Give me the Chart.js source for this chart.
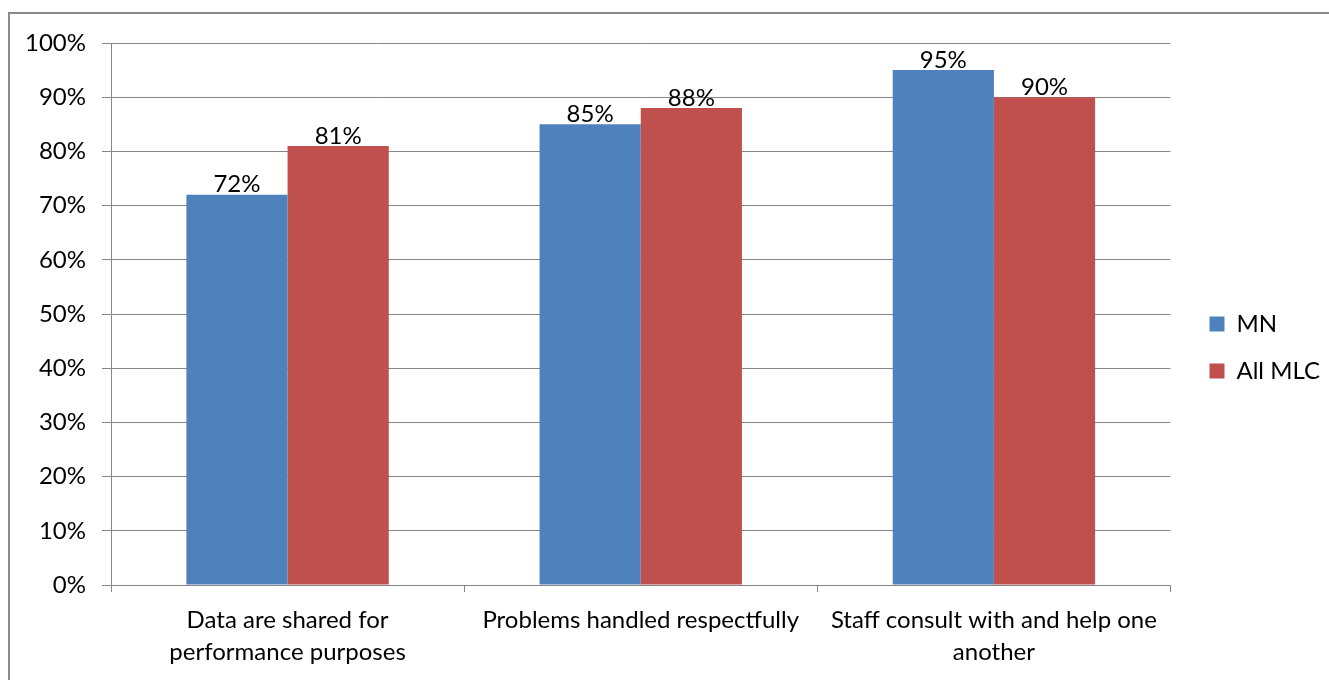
<!DOCTYPE html>
<html>
<head>
<meta charset="utf-8">
<script src="https://cdn.jsdelivr.net/npm/chart.js@4/dist/chart.umd.min.js"></script>
<style>
  html, body { margin: 0; padding: 0; background: #fff; overflow: hidden; }
  #frame {
    position: absolute; left: 8px; top: 12px; width: 1400px; height: 800px;
    border-top: 2px solid #8a8a8a; border-left: 2px solid #8a8a8a;
  }
  #wrap { position: absolute; left: 0; top: 0; width: 1329px; height: 680px; }
</style>
</head>
<body>
<div id="frame"></div>
<div id="wrap"><canvas id="chart" width="1329" height="680"></canvas></div>
<script>
// --- dane ---
const categories = [
  ['Data are shared for', 'performance purposes'],
  ['Problems handled respectfully'],
  ['Staff consult with and help one', 'another']
];
const mnValues = [72, 85, 95];
const allMlcValues = [81, 88, 90];
const yTicks = [0, 10, 20, 30, 40, 50, 60, 70, 80, 90, 100];

const FONT = 'Lato, "Open Sans", sans-serif';
const FONT_SIZE = 24;
const gridColor = '#868686';

// etykiety nad slupkami
const barLabels = {
  id: 'barLabels',
  afterDatasetsDraw(chart) {
    const ctx = chart.ctx;
    ctx.save();
    ctx.font = FONT_SIZE + 'px ' + FONT;
    ctx.fillStyle = '#000';
    ctx.textAlign = 'center';
    ctx.textBaseline = 'bottom';
    chart.data.datasets.forEach((ds, i) => {
      chart.getDatasetMeta(i).data.forEach((bar, j) => {
        ctx.fillText(ds.data[j] + '%', bar.x, bar.y + 2);
      });
    });
    ctx.restore();
  }
};

// legenda troche dalej od wykresu i wyzej
const legendShift = {
  id: 'legendShift',
  afterLayout(chart) {
    const lg = chart.legend;
    lg.left += 16; lg.right += 16;
    lg.top -= 9; lg.bottom -= 9;
  }
};

new Chart(document.getElementById('chart'), {
  type: 'bar',
  data: {
    labels: categories,
    datasets: [
      { label: 'MN', data: mnValues, backgroundColor: '#4F81BD' },
      { label: 'All MLC', data: allMlcValues, backgroundColor: '#C0504D' }
    ]
  },
  options: {
    responsive: false,
    animation: false,
    devicePixelRatio: 1,
    categoryPercentage: 0.573,
    barPercentage: 1,
    layout: { padding: { left: 20, top: 43, right: 15, bottom: 10 } },
    plugins: {
      legend: {
        position: 'right',
        labels: {
          font: { family: FONT, size: FONT_SIZE },
          color: '#000',
          boxWidth: 15,
          boxHeight: 15,
          padding: 23
        }
      },
      tooltip: { enabled: false }
    },
    scales: {
      y: {
        min: 0,
        max: 100,
        afterFit: s => { s.width = 91; },
        afterBuildTicks: s => { s.ticks = yTicks.map(v => ({ value: v })); },
        ticks: {
          callback: v => v + '%',
          font: { family: FONT, size: FONT_SIZE },
          color: '#000',
          padding: 16
        },
        grid: { color: gridColor, lineWidth: 1, tickLength: 9 },
        border: { color: gridColor, width: 1 }
      },
      x: {
        afterFit: s => { s.height = 85; },
        ticks: {
          font: { family: FONT, size: FONT_SIZE, lineHeight: 1.3 },
          color: '#000',
          padding: 13,
          maxRotation: 0
        },
        grid: { offset: true, drawOnChartArea: false, color: gridColor, tickLength: 7 },
        border: { color: gridColor, width: 1 }
      }
    }
  },
  plugins: [barLabels, legendShift]
});
</script>
</body>
</html>
